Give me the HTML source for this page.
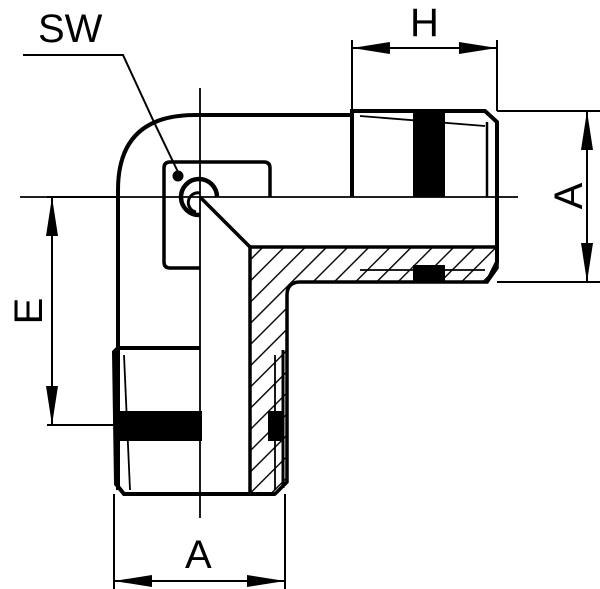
<!DOCTYPE html>
<html><head><style>html,body{margin:0;padding:0;background:#fff}svg{display:block}</style></head><body>
<svg width="600" height="589" viewBox="0 0 600 589" xmlns="http://www.w3.org/2000/svg">
<defs>
<pattern id="h" patternUnits="userSpaceOnUse" width="15" height="15" patternTransform="rotate(45)">
<rect width="15" height="15" fill="#fff"/><line x1="0" y1="0" x2="0" y2="15" stroke="#000" stroke-width="2.8"/>
</pattern>
</defs>
<g fill="none" stroke="#000">
<line x1="200" y1="88" x2="200" y2="518" stroke-width="1.8"/>
<line x1="20" y1="197" x2="518" y2="197" stroke-width="1.8"/>
<path d="M250 247 L497 247 L497 268 L487 282 L300 282 Q287 282 287 295 L287 482 L275 494 L250 494 Z" fill="url(#h)" stroke-width="3.5"/>
<line x1="200" y1="197" x2="250" y2="247" stroke-width="3.5"/>
<path d="M118 490 L118 190 Q118 115 195 115 L352 115" stroke-width="4"/>
<path d="M200 268 L170 268 Q164 268 164 262 L164 168 Q164 162 170 162 L264 162 Q270 162 270 168 L270 197" stroke-width="3.5"/>
<circle cx="178" cy="176" r="5" fill="#000"/>
<path d="M217 197 A18 18 0 1 0 200 215" stroke-width="4.5"/>
<path d="M200 193 A8 8 0 1 0 196 212" stroke-width="3"/>
<path d="M352 197 L352 111 L485 111 L497 122 L497 262 L487 282" stroke-width="4"/>
<line x1="360" y1="116" x2="485" y2="126" stroke-width="1.8"/>
<line x1="487" y1="122" x2="487" y2="197" stroke-width="2.5"/>
<line x1="360" y1="270" x2="485" y2="270" stroke-width="1.8"/>
<path d="M200 348 L118 348 L114 352 L116 484 L124 494 L275 494" stroke-width="4"/>
<line x1="124" y1="355" x2="130" y2="490" stroke-width="1.8"/>
<line x1="275" y1="355" x2="275" y2="490" stroke-width="1.8"/>
<line x1="283" y1="350" x2="283" y2="488" stroke-width="3"/>
<g stroke-width="2">
<line x1="352" y1="40" x2="352" y2="111"/><line x1="497" y1="40" x2="497" y2="111"/>
<line x1="352" y1="48" x2="497" y2="48"/>
<line x1="497" y1="111" x2="600" y2="111"/><line x1="497" y1="282" x2="600" y2="282"/>
<line x1="587" y1="111" x2="587" y2="282"/>
<line x1="47" y1="197" x2="120" y2="197"/><line x1="47" y1="425" x2="115" y2="425"/>
<line x1="52" y1="197" x2="52" y2="425"/>
<line x1="114" y1="494" x2="114" y2="589"/><line x1="285" y1="494" x2="285" y2="589"/>
<line x1="114" y1="581" x2="285" y2="581"/>
<polyline points="23,55 123,55 153,120 178,172"/>
</g>
</g>
<g fill="#000">
<rect x="413" y="111" width="32" height="86"/>
<rect x="413" y="265" width="32" height="17"/>
<rect x="116" y="411" width="86" height="30"/>
<rect x="268" y="411" width="16" height="30"/>
<polygon points="352,48 390,42 390,54"/><polygon points="497,48 459,42 459,54"/>
<polygon points="587,111 581,150 593,150"/><polygon points="587,282 581,243 593,243"/>
<polygon points="52,197 46,236 58,236"/><polygon points="52,425 46,386 58,386"/>
<polygon points="114,581 152,575 152,587"/><polygon points="285,581 247,575 247,587"/>
</g>
<g font-family="Liberation Sans, sans-serif" font-size="40" fill="#000">
<text x="38" y="42">SW</text>
<text x="410" y="36">H</text>
<text x="185" y="568">A</text>
<text transform="translate(582,196) rotate(-90)" text-anchor="middle">A</text>
<text transform="translate(42,311) rotate(-90)" text-anchor="middle">E</text>
</g>
</svg>
</body></html>
